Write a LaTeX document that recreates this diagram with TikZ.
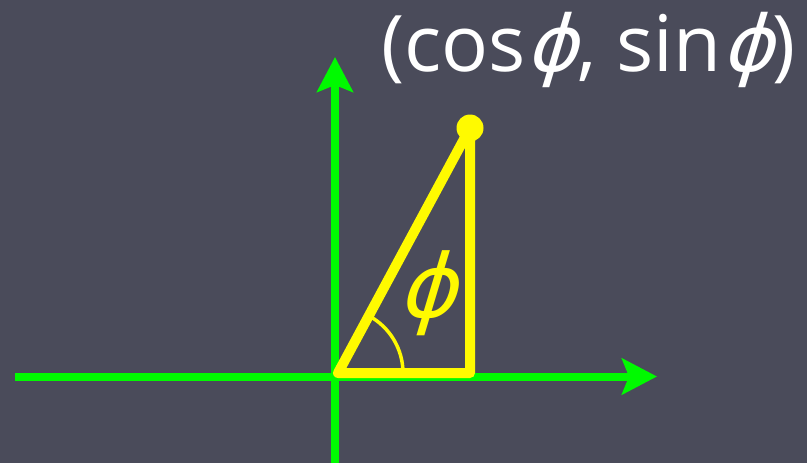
\documentclass[tikz,border=0pt]{standalone}
\usepackage{fontspec}
\setmainfont{Open Sans}
\newfontfamily\phifont[FakeSlant=0.3]{DejaVu Sans}
\usetikzlibrary{arrows.meta}
\definecolor{bgc}{RGB}{74,75,90}
\definecolor{axc}{RGB}{0,250,0}
\definecolor{yel}{RGB}{255,250,0}
\tikzset{
  axis/.style={draw=axc, line width=8pt, -{Stealth[length=35pt,width=36pt,inset=7pt]}},
  tri/.style={draw=yel, line width=10pt, line join=round},
  anglearc/.style={draw=yel, line width=3.5pt},
  lbl/.style={text=white, inner sep=0pt, font=\fontsize{78}{78}\selectfont},
}
\begin{document}
\begin{tikzpicture}[x=1pt,y=-1pt]
\useasboundingbox (0,0) rectangle (807,463);
\fill[bgc] (0,0) rectangle (807,463);
\coordinate (xs) at (15,376.5);
\coordinate (xe) at (657,376.5);
\coordinate (ys) at (335,463);
\coordinate (ye) at (335,57);
\draw[axis] (xs) -- (xe);
\draw[axis] (ys) -- (ye);
\coordinate (O) at (338,373);
\coordinate (B) at (470,373);
\coordinate (P) at (470,128);
\coordinate (A0) at (403,373);
\draw[tri] (O) -- (B) -- (P) -- cycle;
\fill[yel] (P) circle[radius=13.5pt];
\draw[anglearc] (A0) arc[start angle=0, end angle=61.7, radius=65pt];
\node[lbl, text=yel, font=\fontsize{88}{88}\selectfont] (phi) at (427,293) {\phifont ϕ};
\node[lbl, anchor=west] (pt) at (381,50) {(cos{\phifont ϕ}, sin{\phifont ϕ})};
\end{tikzpicture}
\end{document}
